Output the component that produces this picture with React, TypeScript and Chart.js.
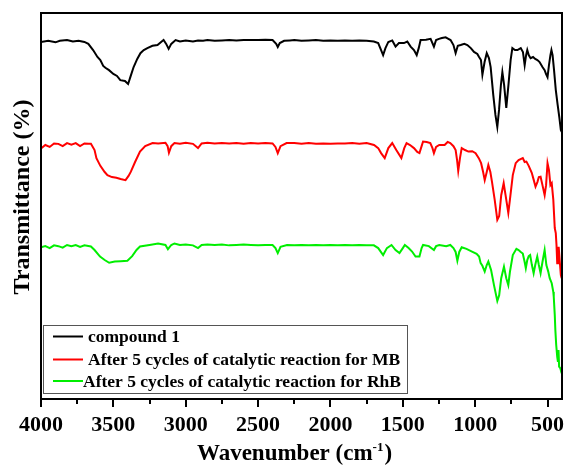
import React, { useEffect, useRef } from "react";
import { Chart, registerables } from "chart.js";

Chart.register(...registerables);

// ---------- data ----------
const SERIES_LABELS = [
  "compound 1",
  "After 5 cycles of catalytic reaction for MB",
  "After 5 cycles of catalytic reaction for RhB",
];
const SERIES_COLORS = ["#000000", "#ff0000", "#00ee00"];

const X_MIN = 400;
const X_MAX = 4000;
const MAJOR_TICKS = [4000, 3500, 3000, 2500, 2000, 1500, 1000, 500];
const MINOR_TICKS = [3750, 3250, 2750, 2250, 1750, 1250, 750];

const blackWn = [4000, 3950, 3900, 3870, 3820, 3780, 3740, 3700, 3673, 3640, 3610, 3590, 3570, 3555, 3530, 3500, 3475, 3452, 3420, 3398, 3380, 3360, 3335, 3313, 3290, 3265, 3230, 3195, 3170, 3153, 3135, 3118, 3100, 3070, 3040, 3000, 2950, 2915, 2880, 2850, 2800, 2750, 2700, 2650, 2600, 2550, 2500, 2450, 2400, 2375, 2364, 2350, 2320, 2280, 2250, 2200, 2150, 2100, 2050, 2000, 1950, 1900, 1850, 1800, 1750, 1700, 1670, 1650, 1636, 1620, 1600, 1573, 1550, 1527, 1492, 1469, 1446, 1423, 1404, 1390, 1377, 1340, 1308, 1285, 1270, 1250, 1230, 1204, 1185, 1170, 1150, 1135, 1120, 1100, 1075, 1054, 1030, 1008, 985, 973, 960, 950, 935, 920, 905, 893, 875, 860, 847, 835, 822, 812, 800, 785, 770, 755, 743, 725, 708, 685, 670, 658, 648, 640, 630, 617, 600, 585, 570, 555, 535, 520, 510, 500, 490, 480, 473, 465, 455, 443, 430, 418, 408, 402];
const blackT = [92.5, 92.8, 92.4, 92.8, 93.0, 92.6, 92.8, 92.5, 92.0, 90.4, 88.6, 87.8, 86.3, 85.8, 85.2, 84.2, 83.7, 82.6, 82.4, 81.6, 83.7, 86.0, 88.1, 89.6, 90.4, 90.9, 91.5, 91.7, 92.5, 93.0, 92.0, 90.7, 92.0, 93.0, 92.6, 92.9, 92.6, 92.9, 92.8, 93.0, 92.8, 92.9, 93.0, 92.9, 93.0, 93.0, 93.0, 93.1, 93.0, 92.0, 91.2, 92.2, 92.8, 92.9, 93.0, 92.8, 92.9, 93.0, 92.8, 92.9, 92.8, 92.9, 92.8, 92.9, 92.8, 92.6, 92.2, 90.4, 89.1, 90.9, 92.5, 92.9, 91.3, 92.2, 92.2, 92.6, 91.3, 90.4, 89.1, 90.9, 93.0, 93.1, 93.3, 91.3, 93.0, 93.3, 93.5, 93.7, 93.3, 93.0, 91.7, 89.6, 91.5, 91.7, 92.0, 91.7, 90.9, 89.9, 89.4, 88.6, 87.8, 84.0, 87.3, 89.6, 88.3, 86.0, 78.8, 73.6, 70.5, 74.9, 81.4, 84.7, 81.4, 75.4, 81.4, 87.8, 90.9, 90.4, 90.4, 90.9, 89.9, 86.5, 89.1, 90.4, 89.1, 88.3, 88.6, 88.1, 87.8, 87.3, 86.0, 85.2, 84.2, 83.4, 86.5, 89.1, 90.4, 89.1, 85.2, 80.1, 76.2, 72.8, 69.7, 69.2];

const redWn = [4000, 3970, 3940, 3910, 3880, 3850, 3820, 3790, 3760, 3730, 3700, 3670, 3655, 3630, 3617, 3590, 3560, 3541, 3510, 3479, 3450, 3416, 3395, 3379, 3350, 3316, 3280, 3229, 3190, 3140, 3125, 3116, 3100, 3078, 3040, 3000, 2950, 2915, 2890, 2850, 2800, 2750, 2700, 2650, 2600, 2550, 2500, 2450, 2400, 2380, 2364, 2345, 2303, 2250, 2200, 2150, 2100, 2050, 2000, 1950, 1900, 1850, 1800, 1750, 1699, 1670, 1650, 1625, 1600, 1573, 1545, 1510, 1490, 1474, 1450, 1423, 1400, 1385, 1370, 1360, 1335, 1310, 1295, 1285, 1270, 1248, 1211, 1190, 1172, 1150, 1135, 1125, 1117, 1105, 1093, 1070, 1047, 1020, 997, 975, 959, 945, 934, 920, 909, 895, 884, 865, 847, 834, 820, 803, 790, 771, 760, 740, 720, 700, 671, 658, 646, 630, 609, 595, 583, 570, 560, 548, 535, 520, 510, 500, 490, 480, 471, 460, 450, 443, 438, 433, 428, 423, 415, 408, 402];
const redT = [64.9, 65.8, 65.3, 66.2, 66.1, 65.5, 66.3, 65.9, 66.3, 65.5, 66.2, 66.1, 66.1, 64.5, 62.4, 60.4, 58.8, 58.0, 57.5, 57.3, 57.0, 56.7, 57.8, 58.9, 61.4, 64.1, 65.5, 66.3, 66.2, 66.4, 65.5, 63.8, 65.5, 66.3, 66.1, 66.4, 66.1, 65.0, 66.2, 66.4, 66.2, 66.3, 66.2, 66.3, 66.1, 66.3, 66.2, 66.3, 66.2, 65.3, 63.7, 65.5, 66.3, 66.3, 66.1, 66.3, 66.1, 66.2, 66.1, 66.2, 66.2, 66.3, 66.1, 66.3, 65.8, 65.0, 63.7, 62.4, 65.0, 66.3, 64.5, 62.4, 65.0, 66.3, 65.8, 65.0, 64.0, 63.7, 65.5, 66.7, 66.6, 66.3, 65.0, 63.7, 65.3, 65.8, 65.8, 66.6, 66.3, 65.5, 64.5, 61.9, 59.1, 62.4, 65.0, 64.5, 64.1, 64.2, 63.7, 62.4, 61.1, 58.8, 56.7, 58.8, 60.6, 58.8, 56.3, 51.6, 46.4, 47.4, 52.8, 55.9, 52.8, 48.2, 51.6, 58.0, 61.1, 61.9, 62.4, 61.4, 61.5, 60.4, 58.6, 56.7, 55.0, 56.2, 57.5, 57.6, 55.4, 52.8, 55.4, 61.1, 59.3, 55.4, 55.9, 51.6, 44.3, 43.0, 39.9, 35.2, 37.3, 39.4, 35.5, 32.1, 31.3];

const greenWn = [4000, 3970, 3940, 3910, 3880, 3850, 3820, 3790, 3760, 3730, 3700, 3655, 3630, 3592, 3560, 3529, 3490, 3450, 3403, 3370, 3340, 3316, 3250, 3191, 3140, 3123, 3100, 3078, 3040, 3000, 2950, 2915, 2890, 2850, 2800, 2750, 2700, 2650, 2600, 2550, 2500, 2450, 2400, 2380, 2364, 2345, 2300, 2250, 2200, 2150, 2100, 2050, 2000, 1950, 1900, 1850, 1800, 1750, 1700, 1670, 1636, 1610, 1578, 1550, 1523, 1500, 1486, 1460, 1436, 1412, 1385, 1370, 1360, 1320, 1285, 1270, 1248, 1200, 1172, 1150, 1135, 1123, 1110, 1093, 1060, 1022, 990, 973, 962, 950, 934, 920, 909, 890, 870, 847, 834, 820, 801, 785, 771, 760, 740, 715, 700, 685, 671, 658, 650, 640, 630, 620, 608, 596, 585, 571, 560, 548, 535, 520, 508, 495, 485, 471, 460, 457, 450, 446, 440, 433, 428, 424, 420, 412, 405, 402];
const greenT = [39.3, 39.6, 39.1, 39.8, 39.6, 39.2, 39.9, 39.6, 39.9, 39.4, 39.8, 39.5, 38.6, 36.9, 36.0, 35.3, 35.6, 35.7, 35.8, 37.0, 38.6, 39.5, 39.9, 40.3, 39.9, 38.8, 39.9, 40.3, 39.9, 40.0, 39.8, 39.1, 39.9, 40.0, 39.9, 40.0, 39.8, 39.9, 40.0, 39.9, 39.8, 39.9, 39.9, 39.1, 37.8, 39.4, 39.9, 39.8, 39.9, 39.8, 39.9, 39.8, 39.9, 39.8, 39.9, 39.8, 39.9, 39.8, 39.8, 39.1, 37.3, 39.1, 39.9, 38.6, 37.8, 39.1, 39.9, 39.1, 38.2, 36.9, 36.9, 39.1, 39.9, 39.6, 38.6, 39.6, 39.9, 39.6, 39.9, 39.1, 38.1, 35.8, 38.1, 39.3, 38.9, 38.2, 37.6, 36.9, 35.2, 34.5, 33.0, 34.7, 35.6, 33.4, 29.5, 25.4, 26.9, 31.3, 34.3, 31.3, 29.5, 32.9, 37.3, 38.9, 38.6, 38.1, 37.7, 35.5, 33.9, 36.0, 37.0, 37.3, 34.7, 32.6, 34.7, 36.9, 34.7, 32.6, 35.5, 38.6, 34.7, 33.0, 31.3, 30.0, 27.7, 26.5, 21.8, 17.9, 14.0, 10.9, 9.6, 12.7, 8.4, 8.0, 7.0, 6.7];

const X_TITLE_MAIN = "Wavenumber (cm";
const X_TITLE_SUP = "-1";
const X_TITLE_END = ")";
const Y_TITLE = "Transmittance (%)";

const FONT = "'Liberation Serif', 'Times New Roman', serif";

function toPoints(xs: number[], ys: number[]) {
  return xs.map((x, i) => ({ x, y: ys[i] }));
}

const decorPlugin = {
  id: "decor",
  afterDraw(chart: any) {
    const { ctx, chartArea } = chart;
    const { left, right, top, bottom } = chartArea;
    const xs = chart.scales.x;
    ctx.save();
    // frame
    ctx.strokeStyle = "#000";
    ctx.lineWidth = 2;
    ctx.strokeRect(left, top, right - left, bottom - top);
    // tick marks (outward)
    ctx.beginPath();
    MAJOR_TICKS.forEach((v) => {
      const px = Math.round(xs.getPixelForValue(v));
      ctx.moveTo(px, bottom);
      ctx.lineTo(px, bottom + 8);
    });
    MINOR_TICKS.forEach((v) => {
      const px = Math.round(xs.getPixelForValue(v));
      ctx.moveTo(px, bottom);
      ctx.lineTo(px, bottom + 5);
    });
    ctx.stroke();

    // x title with superscript
    ctx.fillStyle = "#000";
    ctx.textBaseline = "alphabetic";
    ctx.textAlign = "left";
    const mainFont = `bold 23px ${FONT}`;
    const supFont = `bold 13px ${FONT}`;
    ctx.font = mainFont;
    const w1 = ctx.measureText(X_TITLE_MAIN).width;
    const w3 = ctx.measureText(X_TITLE_END).width;
    ctx.font = supFont;
    const w2 = ctx.measureText(X_TITLE_SUP).width;
    const total = w1 + w2 + 1 + w3;
    const cx = (left + right) / 2 - 7;
    let sx = cx - total / 2;
    const baseY = 460;
    ctx.font = mainFont;
    ctx.fillText(X_TITLE_MAIN, sx, baseY);
    sx += w1;
    ctx.font = supFont;
    ctx.fillText(X_TITLE_SUP, sx, baseY - 9);
    sx += w2 + 1;
    ctx.font = mainFont;
    ctx.fillText(X_TITLE_END, sx, baseY);

    // y title
    ctx.save();
    ctx.translate(23, 197);
    ctx.rotate(-Math.PI / 2);
    ctx.font = `bold 24px ${FONT}`;
    ctx.textAlign = "center";
    ctx.textBaseline = "middle";
    ctx.fillText(Y_TITLE, 0, 0);
    ctx.restore();

    // legend box
    const lx = 43, ly = 325, lw = 364, lh = 68;
    ctx.fillStyle = "#fff";
    ctx.fillRect(lx, ly, lw, lh);
    ctx.strokeStyle = "#555";
    ctx.lineWidth = 1;
    ctx.strokeRect(lx + 0.5, ly + 0.5, lw, lh);
    const rows = [336.5, 359.5, 381];
    const textX = [88, 88, 83];
    ctx.font = `bold 17.5px ${FONT}`;
    ctx.textAlign = "left";
    ctx.textBaseline = "middle";
    chart.data.datasets.forEach((ds: any, i: number) => {
      ctx.strokeStyle = ds.borderColor;
      ctx.lineWidth = 2;
      ctx.beginPath();
      ctx.moveTo(53, rows[i]);
      ctx.lineTo(83, rows[i]);
      ctx.stroke();
      ctx.fillStyle = "#000";
      ctx.fillText(ds.label, textX[i], rows[i] + 1);
    });
    ctx.restore();
  },
};

export default function App() {
  const ref = useRef<HTMLCanvasElement | null>(null);
  useEffect(() => {
    if (!ref.current) return;
    const seriesX = [blackWn, redWn, greenWn];
    const seriesY = [blackT, redT, greenT];
    const chart = new Chart(ref.current, {
      type: "line",
      data: {
        datasets: SERIES_LABELS.map((label, i) => ({
          label,
          data: toPoints(seriesX[i], seriesY[i]),
          borderColor: SERIES_COLORS[i],
          backgroundColor: SERIES_COLORS[i],
          borderWidth: 2,
          pointRadius: 0,
          tension: 0,
          fill: false,
        })),
      },
      options: {
        responsive: false,
        animation: false,
        events: [],
        layout: { padding: { top: 13, right: 5, left: 0, bottom: 0 } },
        plugins: {
          legend: { display: false },
          tooltip: { enabled: false },
          title: { display: false },
        },
        scales: {
          x: {
            type: "linear",
            reverse: true,
            min: X_MIN,
            max: X_MAX,
            afterBuildTicks: (s: any) => {
              s.ticks = MAJOR_TICKS.map((v) => ({ value: v }));
            },
            afterFit: (s: any) => {
              s.height = 66;
              s.paddingLeft = 0;
              s.paddingRight = 0;
            },
            grid: { display: false, drawTicks: false },
            border: { display: false },
            ticks: {
              color: "#000",
              padding: 13,
              maxRotation: 0,
              autoSkip: false,
              font: { family: FONT, size: 22, weight: "bold" },
              callback: (v: any) => String(v),
            },
          },
          y: {
            type: "linear",
            min: 0,
            max: 100,
            afterFit: (s: any) => {
              s.width = 41;
              s.paddingTop = 0;
              s.paddingBottom = 0;
            },
            grid: { display: false, drawTicks: false },
            border: { display: false },
            ticks: { display: false },
          },
        },
      },
      plugins: [decorPlugin],
    });
    return () => chart.destroy();
  }, []);
  return (
    <div style={{ position: "absolute", left: 0, top: 0, width: 567, height: 465, background: "#fff" }}>
      <canvas ref={ref} width={567} height={465} />
    </div>
  );
}
